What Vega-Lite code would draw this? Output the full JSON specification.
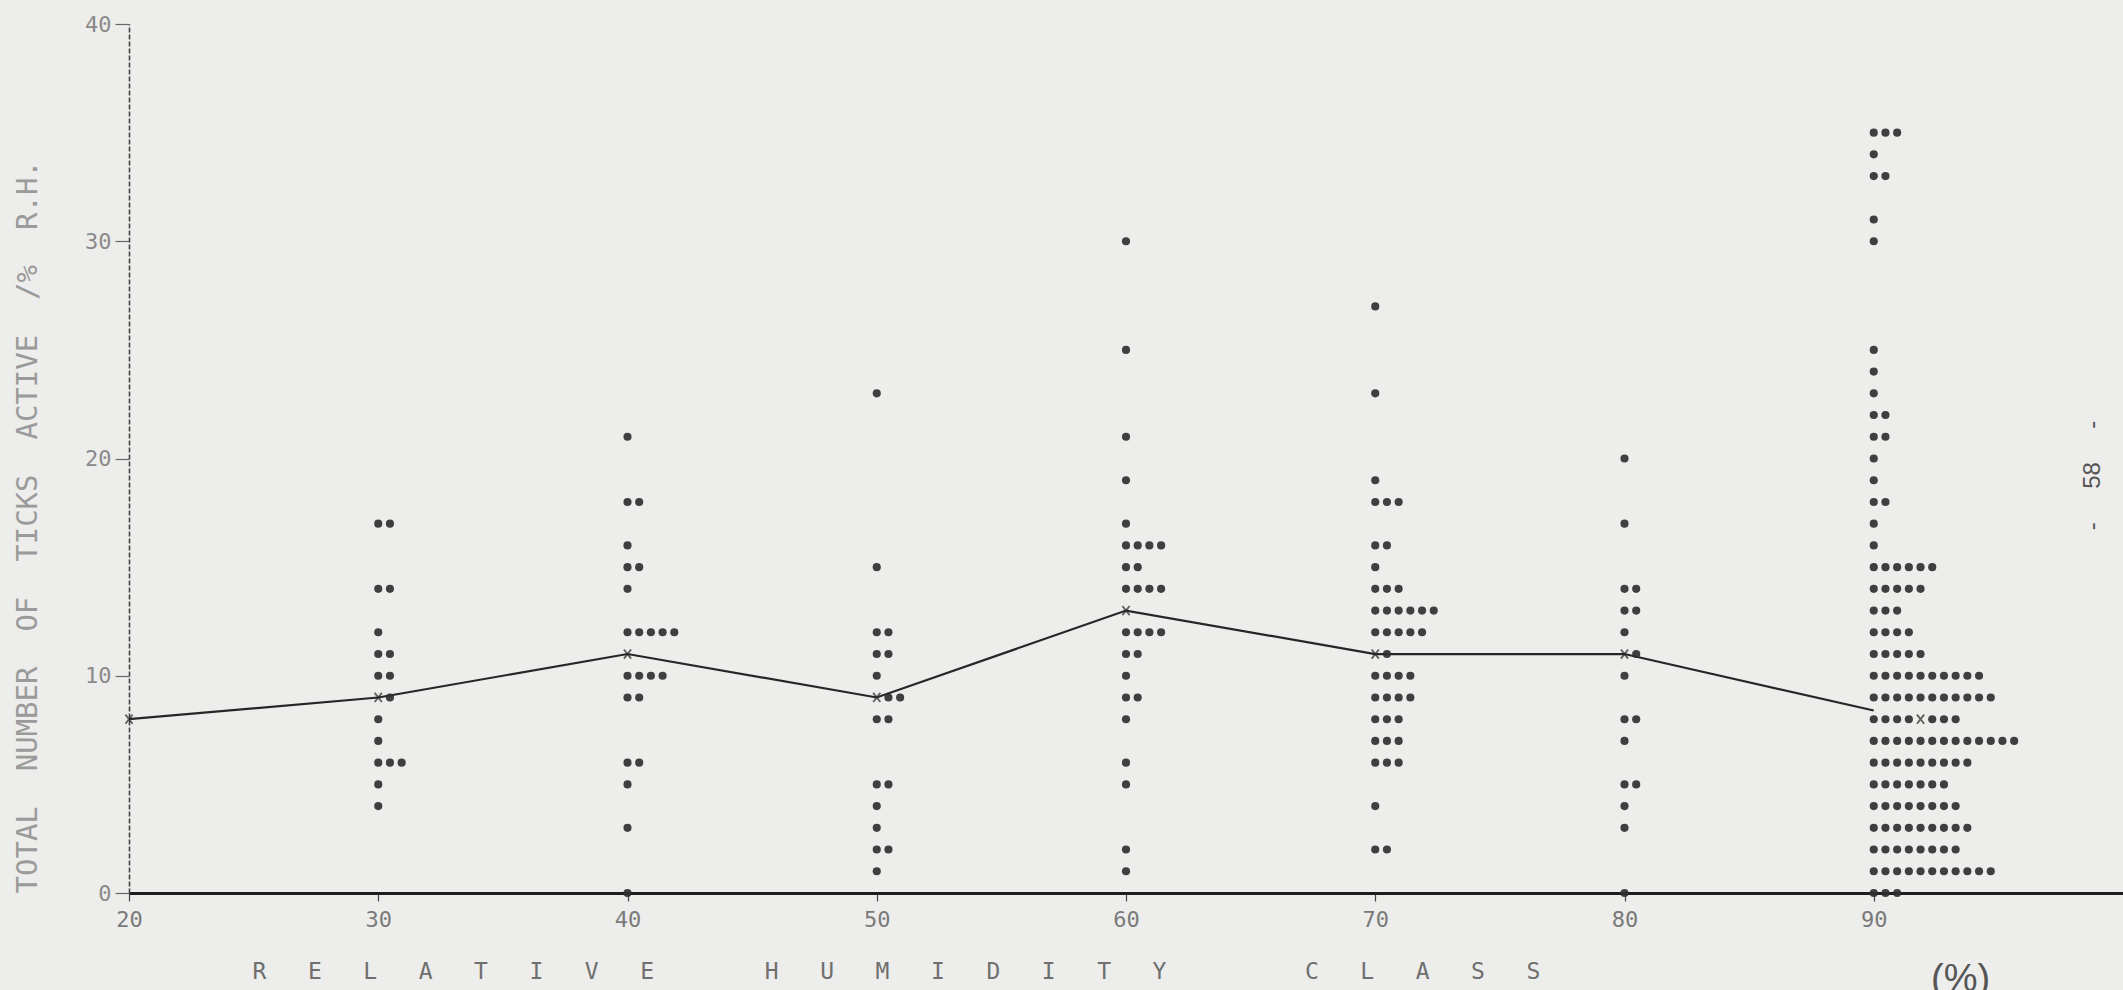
{
  "$schema": "https://vega.github.io/schema/vega-lite/v6.json",
  "width": 1994,
  "height": 869,
  "autosize": {"type": "none"},
  "padding": {"left": 129, "top": 24, "right": 0, "bottom": 97},
  "background": "#ededeb",
  "title": {
    "text": "(%)",
    "orient": "bottom",
    "frame": "group",
    "anchor": "start",
    "align": "left",
    "dx": 1802,
    "offset": -22,
    "font": "Liberation Sans",
    "fontSize": 38,
    "fontWeight": "normal",
    "color": "#555555"
  },
  "config": {
    "view": {"stroke": null},
    "font": "DejaVu Sans Mono",
    "axisX": {
      "grid": false,
      "domainColor": "#1e1e1e",
      "domainWidth": 3,
      "tickColor": "#444",
      "tickSize": 8,
      "tickWidth": 1.2,
      "labelColor": "#7a7a7a",
      "labelFont": "DejaVu Sans Mono",
      "labelFontSize": 22,
      "labelPadding": 8,
      "labelAngle": 0,
      "titleFont": "DejaVu Sans Mono",
      "titleFontSize": 23,
      "titleFontWeight": "normal",
      "titleColor": "#6f6f6f",
      "titleAnchor": "start",
      "titleAlign": "left",
      "titleX": 123,
      "titleY": 78,
      "titleBaseline": "middle"
    },
    "axisY": {
      "grid": false,
      "domainColor": "#444",
      "domainWidth": 1.6,
      "domainDash": [5, 2],
      "tickColor": "#666",
      "tickSize": 14,
      "tickWidth": 1.2,
      "labelColor": "#8a8a8a",
      "labelFont": "DejaVu Sans Mono",
      "labelFontSize": 22,
      "labelPadding": 4,
      "titleFont": "DejaVu Sans Mono",
      "titleFontSize": 29,
      "titleFontWeight": "normal",
      "titleColor": "#9a9a9a",
      "titleAngle": -90,
      "titleAnchor": "start",
      "titleAlign": "left",
      "titleX": -102,
      "titleY": 869,
      "titleBaseline": "middle"
    }
  },
  "resolve": {"scale": {"x": "shared", "y": "shared"}, "axis": {"y": "independent"}},
  "datasets": {
    "means": [
      {"rh": 20, "mean": 8},
      {"rh": 30, "mean": 9},
      {"rh": 40, "mean": 11},
      {"rh": 50, "mean": 9},
      {"rh": 60, "mean": 13},
      {"rh": 70, "mean": 11},
      {"rh": 80, "mean": 11},
      {"rh": 90, "mean": 8.4}
    ],
    "obs": [
      {"rh": 20, "ticks": 8, "sym": "x"},

      {"rh": 30, "ticks": 17, "sym": "o"}, {"rh": 30, "ticks": 17, "sym": "o"},
      {"rh": 30, "ticks": 14, "sym": "o"}, {"rh": 30, "ticks": 14, "sym": "o"},
      {"rh": 30, "ticks": 12, "sym": "o"},
      {"rh": 30, "ticks": 11, "sym": "o"}, {"rh": 30, "ticks": 11, "sym": "o"},
      {"rh": 30, "ticks": 10, "sym": "o"}, {"rh": 30, "ticks": 10, "sym": "o"},
      {"rh": 30, "ticks": 9, "sym": "x"}, {"rh": 30, "ticks": 9, "sym": "o"},
      {"rh": 30, "ticks": 8, "sym": "o"},
      {"rh": 30, "ticks": 7, "sym": "o"},
      {"rh": 30, "ticks": 6, "sym": "o"}, {"rh": 30, "ticks": 6, "sym": "o"}, {"rh": 30, "ticks": 6, "sym": "o"},
      {"rh": 30, "ticks": 5, "sym": "o"},
      {"rh": 30, "ticks": 4, "sym": "o"},

      {"rh": 40, "ticks": 21, "sym": "o"},
      {"rh": 40, "ticks": 18, "sym": "o"}, {"rh": 40, "ticks": 18, "sym": "o"},
      {"rh": 40, "ticks": 16, "sym": "o"},
      {"rh": 40, "ticks": 15, "sym": "o"}, {"rh": 40, "ticks": 15, "sym": "o"},
      {"rh": 40, "ticks": 14, "sym": "o"},
      {"rh": 40, "ticks": 12, "sym": "o"}, {"rh": 40, "ticks": 12, "sym": "o"}, {"rh": 40, "ticks": 12, "sym": "o"}, {"rh": 40, "ticks": 12, "sym": "o"}, {"rh": 40, "ticks": 12, "sym": "o"},
      {"rh": 40, "ticks": 11, "sym": "x"},
      {"rh": 40, "ticks": 10, "sym": "o"}, {"rh": 40, "ticks": 10, "sym": "o"}, {"rh": 40, "ticks": 10, "sym": "o"}, {"rh": 40, "ticks": 10, "sym": "o"},
      {"rh": 40, "ticks": 9, "sym": "o"}, {"rh": 40, "ticks": 9, "sym": "o"},
      {"rh": 40, "ticks": 6, "sym": "o"}, {"rh": 40, "ticks": 6, "sym": "o"},
      {"rh": 40, "ticks": 5, "sym": "o"},
      {"rh": 40, "ticks": 3, "sym": "o"},
      {"rh": 40, "ticks": 0, "sym": "o"},

      {"rh": 50, "ticks": 23, "sym": "o"},
      {"rh": 50, "ticks": 15, "sym": "o"},
      {"rh": 50, "ticks": 12, "sym": "o"}, {"rh": 50, "ticks": 12, "sym": "o"},
      {"rh": 50, "ticks": 11, "sym": "o"}, {"rh": 50, "ticks": 11, "sym": "o"},
      {"rh": 50, "ticks": 10, "sym": "o"},
      {"rh": 50, "ticks": 9, "sym": "x"}, {"rh": 50, "ticks": 9, "sym": "o"}, {"rh": 50, "ticks": 9, "sym": "o"},
      {"rh": 50, "ticks": 8, "sym": "o"}, {"rh": 50, "ticks": 8, "sym": "o"},
      {"rh": 50, "ticks": 5, "sym": "o"}, {"rh": 50, "ticks": 5, "sym": "o"},
      {"rh": 50, "ticks": 4, "sym": "o"},
      {"rh": 50, "ticks": 3, "sym": "o"},
      {"rh": 50, "ticks": 2, "sym": "o"}, {"rh": 50, "ticks": 2, "sym": "o"},
      {"rh": 50, "ticks": 1, "sym": "o"},

      {"rh": 60, "ticks": 30, "sym": "o"},
      {"rh": 60, "ticks": 25, "sym": "o"},
      {"rh": 60, "ticks": 21, "sym": "o"},
      {"rh": 60, "ticks": 19, "sym": "o"},
      {"rh": 60, "ticks": 17, "sym": "o"},
      {"rh": 60, "ticks": 16, "sym": "o"}, {"rh": 60, "ticks": 16, "sym": "o"}, {"rh": 60, "ticks": 16, "sym": "o"}, {"rh": 60, "ticks": 16, "sym": "o"},
      {"rh": 60, "ticks": 15, "sym": "o"}, {"rh": 60, "ticks": 15, "sym": "o"},
      {"rh": 60, "ticks": 14, "sym": "o"}, {"rh": 60, "ticks": 14, "sym": "o"}, {"rh": 60, "ticks": 14, "sym": "o"}, {"rh": 60, "ticks": 14, "sym": "o"},
      {"rh": 60, "ticks": 13, "sym": "x"},
      {"rh": 60, "ticks": 12, "sym": "o"}, {"rh": 60, "ticks": 12, "sym": "o"}, {"rh": 60, "ticks": 12, "sym": "o"}, {"rh": 60, "ticks": 12, "sym": "o"},
      {"rh": 60, "ticks": 11, "sym": "o"}, {"rh": 60, "ticks": 11, "sym": "o"},
      {"rh": 60, "ticks": 10, "sym": "o"},
      {"rh": 60, "ticks": 9, "sym": "o"}, {"rh": 60, "ticks": 9, "sym": "o"},
      {"rh": 60, "ticks": 8, "sym": "o"},
      {"rh": 60, "ticks": 6, "sym": "o"},
      {"rh": 60, "ticks": 5, "sym": "o"},
      {"rh": 60, "ticks": 2, "sym": "o"},
      {"rh": 60, "ticks": 1, "sym": "o"},

      {"rh": 70, "ticks": 27, "sym": "o"},
      {"rh": 70, "ticks": 23, "sym": "o"},
      {"rh": 70, "ticks": 19, "sym": "o"},
      {"rh": 70, "ticks": 18, "sym": "o"}, {"rh": 70, "ticks": 18, "sym": "o"}, {"rh": 70, "ticks": 18, "sym": "o"},
      {"rh": 70, "ticks": 16, "sym": "o"}, {"rh": 70, "ticks": 16, "sym": "o"},
      {"rh": 70, "ticks": 15, "sym": "o"},
      {"rh": 70, "ticks": 14, "sym": "o"}, {"rh": 70, "ticks": 14, "sym": "o"}, {"rh": 70, "ticks": 14, "sym": "o"},
      {"rh": 70, "ticks": 13, "sym": "o"}, {"rh": 70, "ticks": 13, "sym": "o"}, {"rh": 70, "ticks": 13, "sym": "o"}, {"rh": 70, "ticks": 13, "sym": "o"}, {"rh": 70, "ticks": 13, "sym": "o"}, {"rh": 70, "ticks": 13, "sym": "o"},
      {"rh": 70, "ticks": 12, "sym": "o"}, {"rh": 70, "ticks": 12, "sym": "o"}, {"rh": 70, "ticks": 12, "sym": "o"}, {"rh": 70, "ticks": 12, "sym": "o"}, {"rh": 70, "ticks": 12, "sym": "o"},
      {"rh": 70, "ticks": 11, "sym": "x"}, {"rh": 70, "ticks": 11, "sym": "o"},
      {"rh": 70, "ticks": 10, "sym": "o"}, {"rh": 70, "ticks": 10, "sym": "o"}, {"rh": 70, "ticks": 10, "sym": "o"}, {"rh": 70, "ticks": 10, "sym": "o"},
      {"rh": 70, "ticks": 9, "sym": "o"}, {"rh": 70, "ticks": 9, "sym": "o"}, {"rh": 70, "ticks": 9, "sym": "o"}, {"rh": 70, "ticks": 9, "sym": "o"},
      {"rh": 70, "ticks": 8, "sym": "o"}, {"rh": 70, "ticks": 8, "sym": "o"}, {"rh": 70, "ticks": 8, "sym": "o"},
      {"rh": 70, "ticks": 7, "sym": "o"}, {"rh": 70, "ticks": 7, "sym": "o"}, {"rh": 70, "ticks": 7, "sym": "o"},
      {"rh": 70, "ticks": 6, "sym": "o"}, {"rh": 70, "ticks": 6, "sym": "o"}, {"rh": 70, "ticks": 6, "sym": "o"},
      {"rh": 70, "ticks": 4, "sym": "o"},
      {"rh": 70, "ticks": 2, "sym": "o"}, {"rh": 70, "ticks": 2, "sym": "o"},

      {"rh": 80, "ticks": 20, "sym": "o"},
      {"rh": 80, "ticks": 17, "sym": "o"},
      {"rh": 80, "ticks": 14, "sym": "o"}, {"rh": 80, "ticks": 14, "sym": "o"},
      {"rh": 80, "ticks": 13, "sym": "o"}, {"rh": 80, "ticks": 13, "sym": "o"},
      {"rh": 80, "ticks": 12, "sym": "o"},
      {"rh": 80, "ticks": 11, "sym": "x"}, {"rh": 80, "ticks": 11, "sym": "o"},
      {"rh": 80, "ticks": 10, "sym": "o"},
      {"rh": 80, "ticks": 8, "sym": "o"}, {"rh": 80, "ticks": 8, "sym": "o"},
      {"rh": 80, "ticks": 7, "sym": "o"},
      {"rh": 80, "ticks": 5, "sym": "o"}, {"rh": 80, "ticks": 5, "sym": "o"},
      {"rh": 80, "ticks": 4, "sym": "o"},
      {"rh": 80, "ticks": 3, "sym": "o"},
      {"rh": 80, "ticks": 0, "sym": "o"},

      {"rh": 90, "ticks": 35, "sym": "o"}, {"rh": 90, "ticks": 35, "sym": "o"}, {"rh": 90, "ticks": 35, "sym": "o"},
      {"rh": 90, "ticks": 34, "sym": "o"},
      {"rh": 90, "ticks": 33, "sym": "o"}, {"rh": 90, "ticks": 33, "sym": "o"},
      {"rh": 90, "ticks": 31, "sym": "o"},
      {"rh": 90, "ticks": 30, "sym": "o"},
      {"rh": 90, "ticks": 25, "sym": "o"},
      {"rh": 90, "ticks": 24, "sym": "o"},
      {"rh": 90, "ticks": 23, "sym": "o"},
      {"rh": 90, "ticks": 22, "sym": "o"}, {"rh": 90, "ticks": 22, "sym": "o"},
      {"rh": 90, "ticks": 21, "sym": "o"}, {"rh": 90, "ticks": 21, "sym": "o"},
      {"rh": 90, "ticks": 20, "sym": "o"},
      {"rh": 90, "ticks": 19, "sym": "o"},
      {"rh": 90, "ticks": 18, "sym": "o"}, {"rh": 90, "ticks": 18, "sym": "o"},
      {"rh": 90, "ticks": 17, "sym": "o"},
      {"rh": 90, "ticks": 16, "sym": "o"},
      {"rh": 90, "ticks": 15, "sym": "o"}, {"rh": 90, "ticks": 15, "sym": "o"}, {"rh": 90, "ticks": 15, "sym": "o"}, {"rh": 90, "ticks": 15, "sym": "o"}, {"rh": 90, "ticks": 15, "sym": "o"}, {"rh": 90, "ticks": 15, "sym": "o"},
      {"rh": 90, "ticks": 14, "sym": "o"}, {"rh": 90, "ticks": 14, "sym": "o"}, {"rh": 90, "ticks": 14, "sym": "o"}, {"rh": 90, "ticks": 14, "sym": "o"}, {"rh": 90, "ticks": 14, "sym": "o"},
      {"rh": 90, "ticks": 13, "sym": "o"}, {"rh": 90, "ticks": 13, "sym": "o"}, {"rh": 90, "ticks": 13, "sym": "o"},
      {"rh": 90, "ticks": 12, "sym": "o"}, {"rh": 90, "ticks": 12, "sym": "o"}, {"rh": 90, "ticks": 12, "sym": "o"}, {"rh": 90, "ticks": 12, "sym": "o"},
      {"rh": 90, "ticks": 11, "sym": "o"}, {"rh": 90, "ticks": 11, "sym": "o"}, {"rh": 90, "ticks": 11, "sym": "o"}, {"rh": 90, "ticks": 11, "sym": "o"}, {"rh": 90, "ticks": 11, "sym": "o"},
      {"rh": 90, "ticks": 10, "sym": "o"}, {"rh": 90, "ticks": 10, "sym": "o"}, {"rh": 90, "ticks": 10, "sym": "o"}, {"rh": 90, "ticks": 10, "sym": "o"}, {"rh": 90, "ticks": 10, "sym": "o"},
      {"rh": 90, "ticks": 10, "sym": "o"}, {"rh": 90, "ticks": 10, "sym": "o"}, {"rh": 90, "ticks": 10, "sym": "o"}, {"rh": 90, "ticks": 10, "sym": "o"}, {"rh": 90, "ticks": 10, "sym": "o"},
      {"rh": 90, "ticks": 9, "sym": "o"}, {"rh": 90, "ticks": 9, "sym": "o"}, {"rh": 90, "ticks": 9, "sym": "o"}, {"rh": 90, "ticks": 9, "sym": "o"}, {"rh": 90, "ticks": 9, "sym": "o"},
      {"rh": 90, "ticks": 9, "sym": "o"}, {"rh": 90, "ticks": 9, "sym": "o"}, {"rh": 90, "ticks": 9, "sym": "o"}, {"rh": 90, "ticks": 9, "sym": "o"}, {"rh": 90, "ticks": 9, "sym": "o"}, {"rh": 90, "ticks": 9, "sym": "o"},
      {"rh": 90, "ticks": 8, "sym": "o"}, {"rh": 90, "ticks": 8, "sym": "o"}, {"rh": 90, "ticks": 8, "sym": "o"}, {"rh": 90, "ticks": 8, "sym": "o"},
      {"rh": 90, "ticks": 8, "sym": "x"},
      {"rh": 90, "ticks": 8, "sym": "o"}, {"rh": 90, "ticks": 8, "sym": "o"}, {"rh": 90, "ticks": 8, "sym": "o"},
      {"rh": 90, "ticks": 7, "sym": "o"}, {"rh": 90, "ticks": 7, "sym": "o"}, {"rh": 90, "ticks": 7, "sym": "o"}, {"rh": 90, "ticks": 7, "sym": "o"}, {"rh": 90, "ticks": 7, "sym": "o"},
      {"rh": 90, "ticks": 7, "sym": "o"}, {"rh": 90, "ticks": 7, "sym": "o"}, {"rh": 90, "ticks": 7, "sym": "o"}, {"rh": 90, "ticks": 7, "sym": "o"}, {"rh": 90, "ticks": 7, "sym": "o"},
      {"rh": 90, "ticks": 7, "sym": "o"}, {"rh": 90, "ticks": 7, "sym": "o"}, {"rh": 90, "ticks": 7, "sym": "o"},
      {"rh": 90, "ticks": 6, "sym": "o"}, {"rh": 90, "ticks": 6, "sym": "o"}, {"rh": 90, "ticks": 6, "sym": "o"}, {"rh": 90, "ticks": 6, "sym": "o"}, {"rh": 90, "ticks": 6, "sym": "o"},
      {"rh": 90, "ticks": 6, "sym": "o"}, {"rh": 90, "ticks": 6, "sym": "o"}, {"rh": 90, "ticks": 6, "sym": "o"}, {"rh": 90, "ticks": 6, "sym": "o"},
      {"rh": 90, "ticks": 5, "sym": "o"}, {"rh": 90, "ticks": 5, "sym": "o"}, {"rh": 90, "ticks": 5, "sym": "o"}, {"rh": 90, "ticks": 5, "sym": "o"}, {"rh": 90, "ticks": 5, "sym": "o"},
      {"rh": 90, "ticks": 5, "sym": "o"}, {"rh": 90, "ticks": 5, "sym": "o"},
      {"rh": 90, "ticks": 4, "sym": "o"}, {"rh": 90, "ticks": 4, "sym": "o"}, {"rh": 90, "ticks": 4, "sym": "o"}, {"rh": 90, "ticks": 4, "sym": "o"}, {"rh": 90, "ticks": 4, "sym": "o"},
      {"rh": 90, "ticks": 4, "sym": "o"}, {"rh": 90, "ticks": 4, "sym": "o"}, {"rh": 90, "ticks": 4, "sym": "o"},
      {"rh": 90, "ticks": 3, "sym": "o"}, {"rh": 90, "ticks": 3, "sym": "o"}, {"rh": 90, "ticks": 3, "sym": "o"}, {"rh": 90, "ticks": 3, "sym": "o"}, {"rh": 90, "ticks": 3, "sym": "o"},
      {"rh": 90, "ticks": 3, "sym": "o"}, {"rh": 90, "ticks": 3, "sym": "o"}, {"rh": 90, "ticks": 3, "sym": "o"}, {"rh": 90, "ticks": 3, "sym": "o"},
      {"rh": 90, "ticks": 2, "sym": "o"}, {"rh": 90, "ticks": 2, "sym": "o"}, {"rh": 90, "ticks": 2, "sym": "o"}, {"rh": 90, "ticks": 2, "sym": "o"}, {"rh": 90, "ticks": 2, "sym": "o"},
      {"rh": 90, "ticks": 2, "sym": "o"}, {"rh": 90, "ticks": 2, "sym": "o"}, {"rh": 90, "ticks": 2, "sym": "o"},
      {"rh": 90, "ticks": 1, "sym": "o"}, {"rh": 90, "ticks": 1, "sym": "o"}, {"rh": 90, "ticks": 1, "sym": "o"}, {"rh": 90, "ticks": 1, "sym": "o"}, {"rh": 90, "ticks": 1, "sym": "o"},
      {"rh": 90, "ticks": 1, "sym": "o"}, {"rh": 90, "ticks": 1, "sym": "o"}, {"rh": 90, "ticks": 1, "sym": "o"}, {"rh": 90, "ticks": 1, "sym": "o"}, {"rh": 90, "ticks": 1, "sym": "o"}, {"rh": 90, "ticks": 1, "sym": "o"},
      {"rh": 90, "ticks": 0, "sym": "o"}, {"rh": 90, "ticks": 0, "sym": "o"}, {"rh": 90, "ticks": 0, "sym": "o"}
    ]
  },
  "layer": [
    {
      "data": {"name": "means"},
      "mark": {"type": "line", "color": "#262626", "strokeWidth": 2.2},
      "encoding": {
        "x": {
          "field": "rh",
          "type": "ordinal",
          "bandPosition": 0,
          "title": "R\u00a0\u00a0\u00a0E\u00a0\u00a0\u00a0L\u00a0\u00a0\u00a0A\u00a0\u00a0\u00a0T\u00a0\u00a0\u00a0I\u00a0\u00a0\u00a0V\u00a0\u00a0\u00a0E\u00a0\u00a0\u00a0\u00a0\u00a0\u00a0\u00a0\u00a0H\u00a0\u00a0\u00a0U\u00a0\u00a0\u00a0M\u00a0\u00a0\u00a0I\u00a0\u00a0\u00a0D\u00a0\u00a0\u00a0I\u00a0\u00a0\u00a0T\u00a0\u00a0\u00a0Y\u00a0\u00a0\u00a0\u00a0\u00a0\u00a0\u00a0\u00a0\u00a0\u00a0C\u00a0\u00a0\u00a0L\u00a0\u00a0\u00a0A\u00a0\u00a0\u00a0S\u00a0\u00a0\u00a0S",
          "scale": {"type": "band", "domain": [20, 30, 40, 50, 60, 70, 80, 90], "paddingInner": 0, "paddingOuter": 0},
          "axis": {"tickOffset": -124.625}
        },
        "y": {
          "field": "mean",
          "type": "quantitative",
          "title": "TOTAL\u00a0\u00a0NUMBER\u00a0\u00a0OF\u00a0\u00a0TICKS\u00a0\u00a0ACTIVE\u00a0\u00a0/%\u00a0\u00a0R.H.",
          "scale": {"domain": [0, 40], "nice": false},
          "axis": {"values": [0, 10, 20, 30, 40]}
        }
      }
    },
    {
      "data": {"name": "obs"},
      "transform": [
        {"window": [{"op": "row_number", "as": "slot"}], "groupby": ["rh", "ticks"]},
        {"filter": "datum.sym === 'o'"}
      ],
      "mark": {"type": "point", "shape": "circle", "filled": true, "size": 66, "color": "#303030", "opacity": 0.92},
      "encoding": {
        "x": {
          "field": "rh",
          "type": "ordinal",
          "title": "R\u00a0\u00a0\u00a0E\u00a0\u00a0\u00a0L\u00a0\u00a0\u00a0A\u00a0\u00a0\u00a0T\u00a0\u00a0\u00a0I\u00a0\u00a0\u00a0V\u00a0\u00a0\u00a0E\u00a0\u00a0\u00a0\u00a0\u00a0\u00a0\u00a0\u00a0H\u00a0\u00a0\u00a0U\u00a0\u00a0\u00a0M\u00a0\u00a0\u00a0I\u00a0\u00a0\u00a0D\u00a0\u00a0\u00a0I\u00a0\u00a0\u00a0T\u00a0\u00a0\u00a0Y\u00a0\u00a0\u00a0\u00a0\u00a0\u00a0\u00a0\u00a0\u00a0\u00a0C\u00a0\u00a0\u00a0L\u00a0\u00a0\u00a0A\u00a0\u00a0\u00a0S\u00a0\u00a0\u00a0S",
          "scale": {"type": "band", "domain": [20, 30, 40, 50, 60, 70, 80, 90], "paddingInner": 0, "paddingOuter": 0},
          "axis": {"tickOffset": -124.625}
        },
        "xOffset": {"field": "slot", "type": "quantitative", "scale": {"domain": [1, 21], "range": [0, 234], "zero": false, "nice": false}},
        "y": {"field": "ticks", "type": "quantitative", "axis": null}
      }
    },
    {
      "data": {"name": "obs"},
      "transform": [
        {"window": [{"op": "row_number", "as": "slot"}], "groupby": ["rh", "ticks"]},
        {"filter": "datum.sym === 'x'"}
      ],
      "mark": {"type": "point", "shape": "M-0.55,-0.7L0.55,0.7M-0.55,0.7L0.55,-0.7", "filled": false, "size": 170, "stroke": "#262626", "strokeWidth": 1.9},
      "encoding": {
        "x": {
          "field": "rh",
          "type": "ordinal",
          "title": "R\u00a0\u00a0\u00a0E\u00a0\u00a0\u00a0L\u00a0\u00a0\u00a0A\u00a0\u00a0\u00a0T\u00a0\u00a0\u00a0I\u00a0\u00a0\u00a0V\u00a0\u00a0\u00a0E\u00a0\u00a0\u00a0\u00a0\u00a0\u00a0\u00a0\u00a0H\u00a0\u00a0\u00a0U\u00a0\u00a0\u00a0M\u00a0\u00a0\u00a0I\u00a0\u00a0\u00a0D\u00a0\u00a0\u00a0I\u00a0\u00a0\u00a0T\u00a0\u00a0\u00a0Y\u00a0\u00a0\u00a0\u00a0\u00a0\u00a0\u00a0\u00a0\u00a0\u00a0C\u00a0\u00a0\u00a0L\u00a0\u00a0\u00a0A\u00a0\u00a0\u00a0S\u00a0\u00a0\u00a0S",
          "scale": {"type": "band", "domain": [20, 30, 40, 50, 60, 70, 80, 90], "paddingInner": 0, "paddingOuter": 0},
          "axis": {"tickOffset": -124.625}
        },
        "xOffset": {"field": "slot", "type": "quantitative", "scale": {"domain": [1, 21], "range": [0, 234], "zero": false, "nice": false}},
        "y": {
          "field": "ticks",
          "type": "quantitative",
          "title": "-\u00a0\u00a0\u00a0\u00a0\u00a058\u00a0\u00a0\u00a0\u00a0\u00a0-",
          "axis": {
            "orient": "right",
            "labels": false,
            "ticks": false,
            "domain": false,
            "titleAngle": 90,
            "titleX": -31,
            "titleY": 451,
            "titleAlign": "center",
            "titleAnchor": "middle",
            "titleBaseline": "middle",
            "titleFont": "Liberation Sans",
            "titleFontSize": 24,
            "titleColor": "#555555"
          }
        }
      }
    }
  ]
}
